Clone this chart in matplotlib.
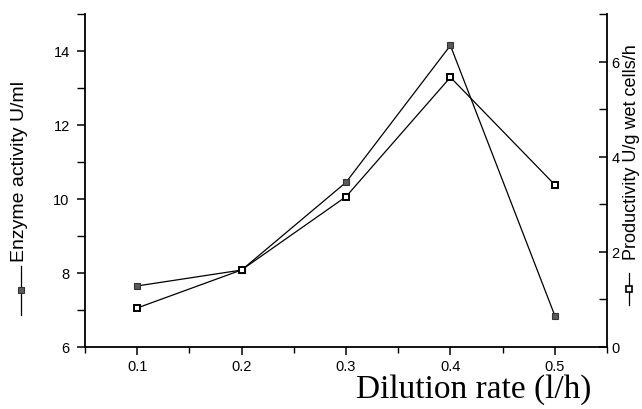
import matplotlib
matplotlib.use('Agg')
import matplotlib.pyplot as plt
from matplotlib.lines import Line2D
from matplotlib.ticker import MultipleLocator

# data
dilution_rate = [0.1, 0.2, 0.3, 0.4, 0.5]
enzyme_activity = [7.65, 8.08, 10.45, 14.15, 6.85]   # U/ml, filled squares, left axis
productivity = [0.82, 1.62, 3.16, 5.67, 3.41]        # U/g wet cells/h, open squares, right axis

x_ticks = [0.1, 0.2, 0.3, 0.4, 0.5]
left_ticks = [6, 8, 10, 12, 14]
right_ticks = [0, 2, 4, 6]

plt.rcParams['font.family'] = ['Liberation Sans', 'DejaVu Sans']

W, H = 642, 410
fig = plt.figure(figsize=(W / 100, H / 100), dpi=100)
ax = fig.add_axes([85 / W, 1 - 348 / H, (607 - 85) / W, (348 - 15) / H])
ax2 = ax.twinx()

ax.plot(dilution_rate, enzyme_activity, color='black', lw=0.9, marker='s', ms=5,
        mfc='#5a5a5a', mec='#333333', mew=0.8, clip_on=False, zorder=3)
ax2.plot(dilution_rate, productivity, color='black', lw=0.9, marker='s', ms=5,
         mfc='white', mec='black', mew=1.4, clip_on=False, zorder=3)

ax.set_xlim(0.05, 0.55)
ax.set_ylim(6, 15)
ax2.set_ylim(0, 7)

ax.set_xticks(x_ticks)
ax.set_xticklabels([str(v) for v in x_ticks])
ax.xaxis.set_minor_locator(MultipleLocator(0.05))
ax.set_yticks(left_ticks)
ax.yaxis.set_minor_locator(MultipleLocator(1))
ax2.set_yticks(right_ticks)
ax2.yaxis.set_minor_locator(MultipleLocator(1))

for a in (ax, ax2):
    a.spines['top'].set_visible(False)
    for s in a.spines.values():
        s.set_linewidth(1.3)
ax.spines['right'].set_visible(False)
ax2.spines['bottom'].set_visible(False)
ax2.spines['left'].set_visible(False)

ax.tick_params(axis='y', which='major', direction='out', length=6, width=1.1,
               labelsize=10.5, pad=5)
ax.tick_params(axis='x', which='major', direction='out', length=6, width=1.1,
               labelsize=10.5, pad=3)
ax.tick_params(axis='both', which='minor', direction='out', length=4, width=1.0)
ax.tick_params(axis='y', which='minor', length=6)
ax2.tick_params(axis='y', which='major', direction='in', length=6, width=1.1,
                labelsize=10.5, pad=3)
ax2.tick_params(axis='y', which='minor', direction='in', length=6, width=1.0)

# axis titles with their little legend keys
fig.text(474 / W, 1 - 390 / H, 'Dilution rate (l/h)', family='Liberation Serif',
         fontsize=24, ha='center', va='center')
fig.text(20 / W, 1 - 172 / H, 'Enzyme activity U/ml', fontsize=14,
         rotation=90, ha='center', va='center')
fig.text(631 / W, 1 - 152 / H, 'Productivity U/g wet cells/h', fontsize=13,
         rotation=90, ha='center', va='center')

key_left = Line2D([21 / W, 21 / W], [1 - 316 / H, 1 - 267 / H], transform=fig.transFigure,
                  color='black', lw=0.9)
mark_left = Line2D([21 / W], [1 - 291 / H], transform=fig.transFigure, marker='s', ms=5,
                   mfc='#5a5a5a', mec='#333333', mew=0.8, ls='none')
key_right = Line2D([629 / W, 629 / W], [1 - 306 / H, 1 - 274 / H], transform=fig.transFigure,
                   color='black', lw=0.9)
mark_right = Line2D([629 / W], [1 - 290 / H], transform=fig.transFigure, marker='s', ms=5,
                    mfc='white', mec='black', mew=1.2, ls='none')
for ln in (key_left, mark_left, key_right, mark_right):
    fig.add_artist(ln)

fig.savefig('out.png', dpi=100)
